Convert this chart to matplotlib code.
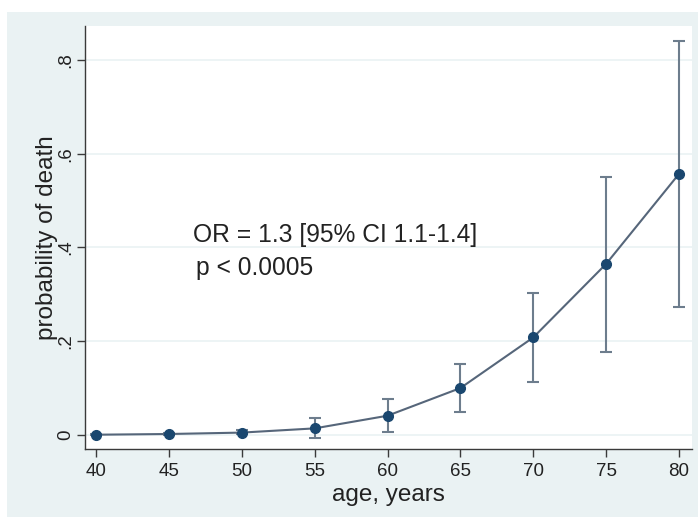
import numpy as np
import matplotlib.pyplot as plt
from matplotlib.patches import Rectangle

plt.rcParams['font.family'] = ['Liberation Sans', 'DejaVu Sans']

age = [40, 45, 50, 55, 60, 65, 70, 75, 80]
prob = [0.0005, 0.002, 0.005, 0.014, 0.041, 0.100, 0.208, 0.365, 0.557]
ci_low = [0.0, 0.0005, 0.001, -0.006, 0.006, 0.049, 0.113, 0.177, 0.273]
ci_high = [0.001, 0.004, 0.010, 0.036, 0.077, 0.152, 0.302, 0.550, 0.841]
yticks = [0, 0.2, 0.4, 0.6, 0.8]
ytick_labels = ["0", ".2", ".4", ".6", ".8"]
xticks = [40, 45, 50, 55, 60, 65, 70, 75, 80]

BG = '#eaf2f3'
NAVY = '#1a476f'

fig = plt.figure(figsize=(6.98, 5.17), dpi=100)
fig.patch.set_facecolor('white')
fig.patches.append(Rectangle((7 / 698, 0), 1, 1 - 12 / 517, transform=fig.transFigure,
                             facecolor=BG, edgecolor='none', zorder=-10))

ax = fig.add_axes([85 / 698, 1 - 449 / 517, (692 - 85) / 698, (449 - 26) / 517])
ax.set_facecolor('white')

p = np.array(prob)
yerr = [p - np.array(ci_low), np.array(ci_high) - p]
ax.errorbar(age, prob, yerr=yerr, fmt='none', ecolor='#6d7d8d', elinewidth=1.5,
            capsize=4, capthick=1.5, zorder=2)
ax.plot(age, prob, color='#56667a', lw=1.5, zorder=3)
ax.plot(age, prob, 'o', color=NAVY, ms=7, zorder=4)

ax.set_xlim(39.245, 80.89)
ax.set_ylim(-0.03, 0.8725)
ax.set_xticks(xticks)
ax.set_yticks(yticks)
ax.set_yticklabels(ytick_labels, rotation=90, va='center')
ax.grid(axis='y', color=BG, lw=1.2)
ax.set_axisbelow(True)

for s in ['top', 'right']:
    ax.spines[s].set_visible(False)
for s in ['left', 'bottom']:
    ax.spines[s].set_color('#3a3a3a')
    ax.spines[s].set_linewidth(1.0)
ax.tick_params(axis='both', length=6, width=1, color='#3a3a3a', labelsize=13.5,
               labelcolor='#222222', pad=4)
ax.tick_params(axis='y', pad=2)

ax.set_xlabel('age, years', fontsize=17.5, color='#222222', labelpad=3)
ax.set_ylabel('probability of death', fontsize=17.5, color='#222222', labelpad=-1)

ax.text(46.65, 0.427, 'OR = 1.3 [95% CI 1.1-1.4]', fontsize=17.7, color='#222222', va='center')
ax.text(46.85, 0.356, 'p < 0.0005', fontsize=17.7, color='#222222', va='center')

fig.savefig('out.png', dpi=100)
